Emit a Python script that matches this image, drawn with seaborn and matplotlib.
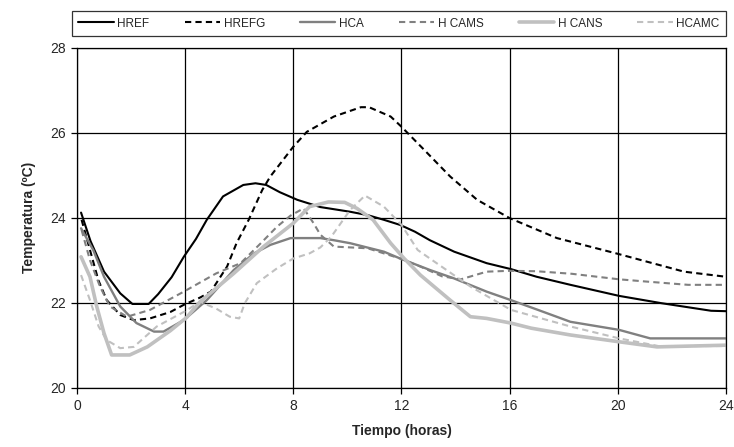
import matplotlib
matplotlib.use("Agg")
import matplotlib.pyplot as plt
import seaborn as sns
import pandas as pd

# hours / temperature (ºC), one pair of lists per series
href_h = [0.15, 0.5, 1.0, 1.6, 2.05, 2.65, 3.0, 3.5, 3.95, 4.4, 4.8, 5.4, 6.15, 6.6, 7.0, 7.5,
          8.15, 9.0, 10.1, 10.75, 11.35, 11.95, 12.5, 13.05, 13.95, 15.15, 16.05, 17.0, 18.25,
          20.05, 21.6, 23.45, 24.0]
href_t = [24.12, 23.45, 22.73, 22.22, 21.97, 21.97, 22.2, 22.6, 23.08, 23.5, 23.95, 24.5, 24.77,
          24.81, 24.77, 24.6, 24.42, 24.25, 24.14, 24.06, 23.95, 23.83, 23.67, 23.47, 23.2, 22.93,
          22.79, 22.61, 22.42, 22.16, 21.99, 21.81, 21.8]

hrefg_h = [0.17, 0.48, 0.79, 1.1, 1.6, 2.1, 2.7, 3.45, 3.95, 4.55, 4.95, 5.55, 5.9, 6.35, 6.85,
           7.15, 8.0, 8.5, 9.5, 10.5, 10.8, 11.6, 12.0, 12.85, 13.8, 14.8, 16.0, 17.75, 20.0,
           22.45, 24.0]
hrefg_t = [23.95, 23.24, 22.53, 22.06, 21.71, 21.59, 21.63, 21.78, 21.95, 22.12, 22.26, 22.85,
           23.4, 23.95, 24.65, 24.97, 25.67, 26.02, 26.38, 26.6, 26.6, 26.38, 26.14, 25.59, 24.97,
           24.42, 23.99, 23.52, 23.15, 22.73, 22.61]

hca_h = [0.15, 0.6, 1.0, 1.6, 2.2, 2.85, 3.2, 3.95, 4.8, 5.8, 6.55, 7.15, 7.9, 9.0, 9.5, 10.1,
         11.35, 11.95, 13.05, 13.95, 15.15, 16.05, 17.05, 18.25, 20.05, 21.2, 24.0]
hca_t = [23.75, 23.24, 22.61, 21.91, 21.52, 21.32, 21.32, 21.59, 22.06, 22.77, 23.16, 23.36,
         23.52, 23.52, 23.47, 23.4, 23.2, 23.04, 22.77, 22.57, 22.26, 22.06, 21.83, 21.55, 21.36,
         21.16, 21.16]

hcams_h = [0.17, 0.48, 0.85, 1.22, 1.85, 2.7, 3.95, 5.15, 6.05, 6.8, 7.4, 7.9, 8.38, 8.75, 9.0,
           9.5, 10.75, 11.95, 12.7, 13.5, 14.2, 15.15, 16.0, 17.0, 18.3, 20.05, 21.0, 22.6, 24.0]
hcams_t = [23.71, 23.0, 22.38, 21.91, 21.67, 21.83, 22.26, 22.69, 22.93, 23.4, 23.79, 24.05,
           24.22, 23.87, 23.6, 23.32, 23.28, 23.04, 22.85, 22.62, 22.55, 22.73, 22.75, 22.74,
           22.68, 22.55, 22.5, 22.42, 22.42]

hcans_h = [0.15, 0.48, 0.73, 1.0, 1.28, 1.95, 2.6, 3.45, 4.05, 4.55, 5.8, 6.9, 8.0, 8.6, 9.3,
           9.9, 10.35, 10.95, 11.6, 12.1, 12.7, 13.8, 14.55, 15.15, 16.05, 16.8, 18.25, 20.05,
           21.45, 24.0]
hcans_t = [23.08, 22.61, 21.91, 21.28, 20.77, 20.77, 20.96, 21.34, 21.65, 22.02, 22.69, 23.32,
           23.87, 24.26, 24.37, 24.36, 24.22, 23.95, 23.4, 23.04, 22.65, 22.06, 21.67, 21.63,
           21.52, 21.4, 21.24, 21.08, 20.96, 21.0]

hcamc_h = [0.15, 0.48, 0.8, 1.1, 1.6, 2.1, 2.95, 4.0, 4.55, 5.15, 5.65, 6.0, 6.2, 6.65, 7.4,
           8.0, 8.6, 9.0, 9.4, 10.1, 10.65, 11.35, 12.0, 12.6, 13.05, 14.55, 16.05, 18.25, 20.05,
           21.5, 24.0]
hcamc_t = [22.65, 22.06, 21.44, 21.12, 20.93, 20.96, 21.44, 21.8, 22.02, 21.86, 21.67, 21.63,
           21.98, 22.46, 22.81, 23.04, 23.16, 23.3, 23.55, 24.18, 24.52, 24.26, 23.83, 23.24,
           23.04, 22.38, 21.83, 21.44, 21.16, 20.98, 20.98]

series = [
    ("HREF", href_h, href_t, "black", "-", 1.5),
    ("HREFG", hrefg_h, hrefg_t, "black", "--", 1.5),
    ("HCA", hca_h, hca_t, "#808080", "-", 1.7),
    ("H CAMS", hcams_h, hcams_t, "#808080", "--", 1.5),
    ("H CANS", hcans_h, hcans_t, "#c0c0c0", "-", 2.6),
    ("HCAMC", hcamc_h, hcamc_t, "#c0c0c0", "--", 1.5),
]

sns.set_style("white")
plt.rcParams["font.family"] = ["Liberation Sans", "DejaVu Sans"]

fig = plt.figure(figsize=(7.34, 4.47), dpi=100)
ax = fig.add_axes([0.1049, 0.1327, 0.8841, 0.7606])

for name, hh, tt, col, ls, lw in series:
    df = pd.DataFrame({"hora": hh, "temp": tt})
    sns.lineplot(data=df, x="hora", y="temp", ax=ax, color=col, linewidth=lw,
                 estimator=None, sort=False, label=name)
    line = ax.get_lines()[-1]
    line.set_linestyle(ls)
    if ls == "--":
        line.set_dashes((3, 2))

ax.set_xlim(0, 24)
ax.set_ylim(20, 28)
ax.set_xticks(range(0, 25, 4))
ax.set_yticks(range(20, 29, 2))
ax.grid(True, color="black", linewidth=0.9)
ax.set_axisbelow(True)
for sp in ax.spines.values():
    sp.set_color("black")
    sp.set_linewidth(0.9)
ax.tick_params(axis="both", direction="out", length=4, width=0.9, color="black",
               labelsize=10, pad=4, bottom=True, left=True)
ax.set_xlabel("Tiempo (horas)", fontsize=10, fontweight="bold", labelpad=8)
ax.set_ylabel("Temperatura (ºC)", fontsize=10, fontweight="bold", labelpad=10)

ax.legend(ncol=6, mode="expand", loc="lower left",
          bbox_to_anchor=(72 / 734, 1 - 36 / 447, 654 / 734, 29 / 447),
          bbox_transform=fig.transFigure, frameon=True, fancybox=False,
          edgecolor="black", fontsize=8.5, handlelength=3.0, handletextpad=0.3,
          borderaxespad=0, borderpad=0.55, columnspacing=1.0)
ax.get_legend().get_frame().set_linewidth(0.9)

fig.savefig("out.png", dpi=100)
